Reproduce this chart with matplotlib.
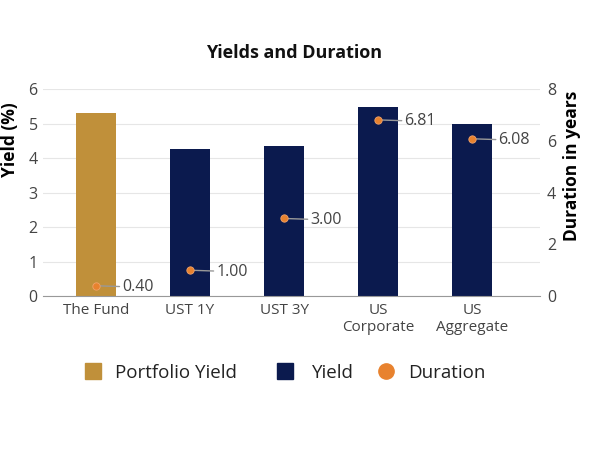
import matplotlib.pyplot as plt
import numpy as np

plt.rcParams['font.family'] = ['Open Sans', 'DejaVu Sans']

categories = ["The Fund", "UST 1Y", "UST 3Y", "US\nCorporate", "US\nAggregate"]
yields = [5.30, 4.26, 4.36, 5.47, 5.00]
durations = [0.40, 1.00, 3.00, 6.81, 6.08]
duration_labels = ["0.40", "1.00", "3.00", "6.81", "6.08"]
legend_labels = ["Portfolio Yield", "Yield", "Duration"]

gold = "#C0903A"
navy = "#0B1A4E"
orange = "#E8822E"

fig = plt.figure(figsize=(5.92, 4.5), dpi=100)
ax = fig.add_axes([0.073, 0.342, 0.839, 0.46])
x = np.arange(len(categories))

bar_colors = [gold] + [navy] * (len(categories) - 1)
ax.bar(x, yields, width=0.42, color=bar_colors, zorder=2)

ax.set_ylim(0, 6)
ax.set_yticks(range(0, 7))
ax.set_xlim(-0.56, 4.72)
ax.set_xticks(x)
ax.set_xticklabels(categories, fontsize=11, color="#444444", linespacing=1.15)
ax.tick_params(axis="y", labelsize=11.5, colors="#444444", length=0, pad=4)
ax.tick_params(axis="x", length=0, pad=5)
ax.grid(axis="y", color="#e6e6e6", linewidth=0.8, zorder=0)
for s in ["top", "right", "left"]:
    ax.spines[s].set_visible(False)
ax.spines["bottom"].set_color("#999999")
ax.set_ylabel("Yield (%)", fontsize=12.5, fontweight="bold")
ax.yaxis.set_label_coords(-0.048, 0.758)

ax2 = ax.twinx()
ax2.set_ylim(0, 8)
ax2.set_yticks(range(0, 9, 2))
ax2.tick_params(axis="y", labelsize=11.5, colors="#444444", length=0, pad=5)
for s in ["top", "right", "left", "bottom"]:
    ax2.spines[s].set_visible(False)
ax2.set_ylabel("Duration in years", fontsize=12.5, fontweight="bold")
ax2.yaxis.set_label_coords(1.046, 0.628)

ax2.scatter(x, durations, s=28, color=orange, edgecolor="#f2a36a", linewidth=0.6, zorder=4)
for xi, d, lab in zip(x, durations, duration_labels):
    ax2.annotate(lab, xy=(xi, d), xytext=(19, -1), textcoords="offset points",
                 fontsize=11.5, color="#444444", va="center", ha="left",
                 arrowprops=dict(arrowstyle="-", color="#999999", lw=1,
                                 shrinkA=0, shrinkB=3))

fig.text(0.497, 0.882, "Yields and Duration", ha="center", va="center",
         fontsize=13, fontweight="bold", color="#111111")

# legend: one entry per legend so each can sit where the reference has it
markers = ["s", "s", "o"]
colors = [gold, navy, orange]
anchors = [0.1412, 0.4655, 0.636]
pads = [0.67, 0.94, 0.67]
for m, c, lab, xa, p in zip(markers, colors, legend_labels, anchors, pads):
    h = plt.Line2D([], [], marker=m, linestyle="", markersize=11, color=c)
    fig.legend([h], [lab], loc="center left", bbox_to_anchor=(xa, 0.171),
               frameon=False, fontsize=13.5, handlelength=1.0, handletextpad=p,
               borderpad=0, borderaxespad=0, labelcolor="#222222")

fig.savefig("out.png", dpi=100)
